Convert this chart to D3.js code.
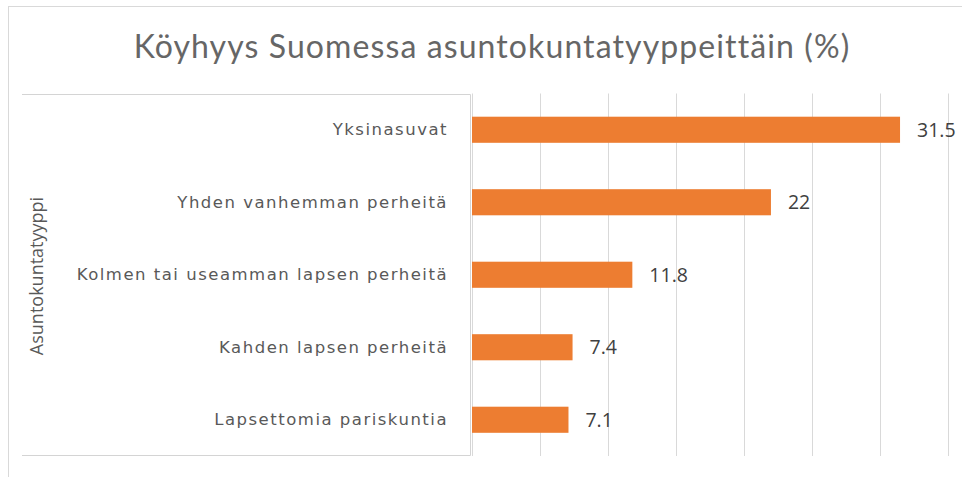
<!DOCTYPE html>
<html>
<head>
<meta charset="utf-8">
<script src="https://cdn.jsdelivr.net/npm/d3@7"></script>
<style>
    body { margin: 0; background: #fff; }
    svg { display: block; }
</style>
</head>
<body>
<div id="chart"></div>
<script>
// data
const categories = ["Yksinasuvat", "Yhden vanhemman perheitä", "Kolmen tai useamman lapsen perheitä", "Kahden lapsen perheitä", "Lapsettomia pariskuntia"]
const values = [31.5, 22, 11.8, 7.4, 7.1]
const xTicks = [0, 5, 10, 15, 20, 25, 30, 35]
const title = "Köyhyys Suomessa asuntokuntatyyppeittäin (%)"
const yTitle = "Asuntokuntatyyppi"

const W = 962, H = 477
const margin = { top: 93.5, right: 14.5, bottom: 21, left: 472 }
const width = W - margin.left - margin.right
const height = H - margin.top - margin.bottom

const svg = d3.select("#chart")
    .append("svg")
    .attr("width", W)
    .attr("height", H)

// outer frame
svg.append("rect")
    .attr("x", 8.5).attr("y", 6.5)
    .attr("width", W).attr("height", H)
    .attr("fill", "none")
    .attr("stroke", "#d9d9d9")

// box round the category labels
svg.append("path")
    .attr("d", "M22,94.5H470.5V455.5H22")
    .attr("fill", "none")
    .attr("stroke", "#d4d4d4")

// title
svg.append("text")
    .attr("x", 492).attr("y", 58)
    .attr("text-anchor", "middle")
    .attr("font-family", "Lato, 'Open Sans', sans-serif")
    .attr("font-size", 32)
    .attr("letter-spacing", 1.1)
    .attr("fill", "#666666")
    .text(title)

const g = svg.append("g")
    .attr("transform", `translate(${margin.left}, ${margin.top})`)

const x = d3.scaleLinear()
    .domain([0, 35])
    .range([0, 475.6])

const y = d3.scaleBand()
    .domain(categories)
    .range([0, height])
    .paddingInner(0.64)
    .paddingOuter(0.32)

// vertical gridlines
g.append("g")
    .selectAll("line")
    .data(xTicks)
    .join("line")
    .attr("x1", d => Math.round(x(d)) + 0.5)
    .attr("x2", d => Math.round(x(d)) + 0.5)
    .attr("y1", 0)
    .attr("y2", height)
    .attr("stroke", "#d9d9d9")
    .attr("stroke-width", 1)

// bars
g.append("g")
    .selectAll("rect")
    .data(values)
    .join("rect")
    .attr("x", x(0))
    .attr("y", (d, i) => y(categories[i]))
    .attr("width", d => x(d) - x(0))
    .attr("height", y.bandwidth())
    .attr("fill", "#ed7d31")

// value labels
g.append("g")
    .selectAll("text")
    .data(values)
    .join("text")
    .attr("x", d => x(d) + 17)
    .attr("y", (d, i) => y(categories[i]) + y.bandwidth() / 2)
    .attr("dy", "0.36em")
    .attr("font-family", "'Open Sans', sans-serif")
    .attr("font-size", 19.5)
    .attr("fill", "#404040")
    .text(d => d)

// category axis
const yAxis = g.append("g")
    .call(d3.axisLeft(y).tickSize(0).tickPadding(24))
yAxis.select(".domain").remove()
yAxis.selectAll("text")
    .attr("font-family", "'DejaVu Sans', sans-serif")
    .attr("font-size", 16.5)
    .attr("letter-spacing", 1.5)
    .attr("fill", "#595959")

// axis title
svg.append("text")
    .attr("transform", "translate(43, 276) rotate(-90)")
    .attr("text-anchor", "middle")
    .attr("font-family", "'Open Sans', sans-serif")
    .attr("font-size", 18)
    .attr("fill", "#595959")
    .text(yTitle)
</script>
</body>
</html>
